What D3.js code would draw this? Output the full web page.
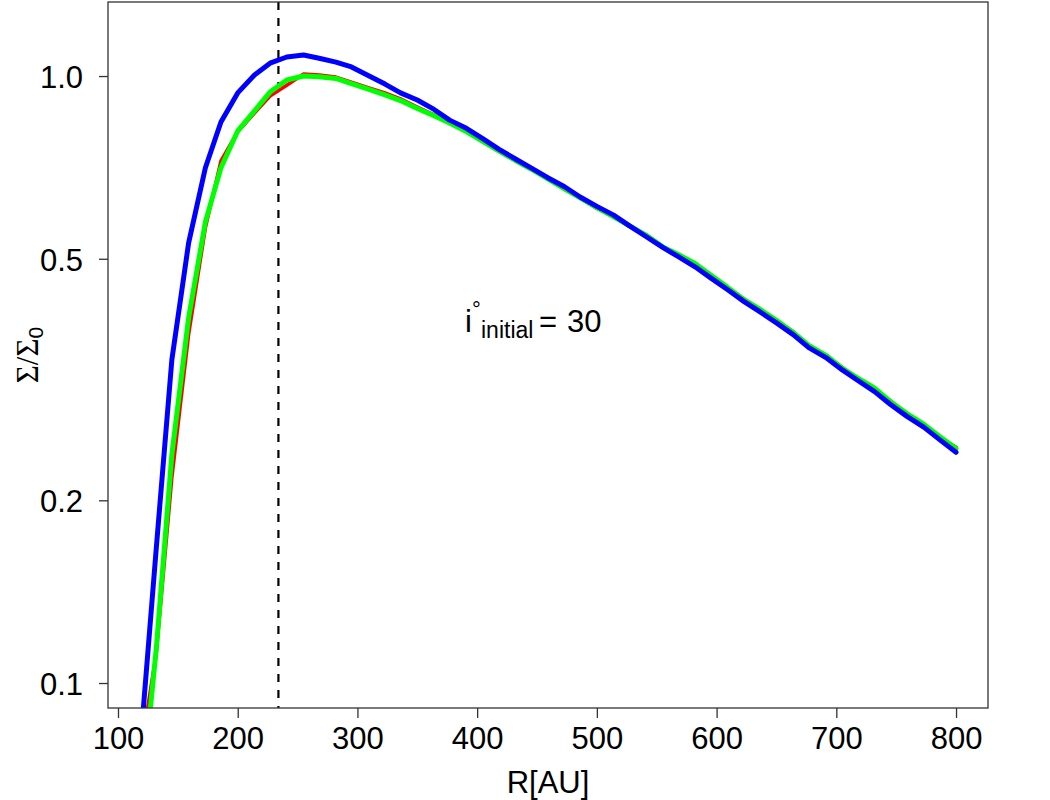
<!DOCTYPE html>
<html>
<head>
<meta charset="utf-8">
<script src="https://cdn.jsdelivr.net/npm/d3@7"></script>
<style>
  body { margin: 0; background: #fff; }
  svg { display: block; }
</style>
</head>
<body>
<svg></svg>
<script>
const width = 1050;
const height = 800;

// radius grid [AU]
const radius = [118, 132, 145, 159, 173, 186, 200, 214, 227, 241,
  255, 268, 282, 295, 309, 323, 336, 350, 364, 377,
  391, 405, 418, 432, 445, 459, 473, 486, 500, 514,
  527, 541, 555, 568, 582, 595, 609, 623, 636, 650,
  664, 677, 691, 705, 718, 732, 745, 759, 773, 786, 800];

// surface density Sigma/Sigma0, three runs
const sigmaRed = [0.075, 0.112, 0.218, 0.375, 0.562, 0.725, 0.809, 0.869, 0.927, 0.966,
  1.008, 1.004, 0.996, 0.977, 0.957, 0.938, 0.917, 0.889, 0.863, 0.839,
  0.812, 0.782, 0.752, 0.727, 0.702, 0.678, 0.651, 0.631, 0.605, 0.588,
  0.565, 0.548, 0.524, 0.506, 0.490, 0.471, 0.448, 0.429, 0.413, 0.395,
  0.379, 0.359, 0.346, 0.331, 0.317, 0.305, 0.292, 0.277, 0.266, 0.254, 0.2445];

const sigmaGreen = [0.060, 0.114, 0.238, 0.400, 0.575, 0.706, 0.812, 0.876, 0.941, 0.985,
  1.000, 0.997, 0.991, 0.972, 0.952, 0.931, 0.911, 0.884, 0.860, 0.837,
  0.810, 0.780, 0.753, 0.726, 0.703, 0.677, 0.652, 0.630, 0.607, 0.586,
  0.567, 0.547, 0.523, 0.508, 0.491, 0.470, 0.449, 0.428, 0.413, 0.396,
  0.378, 0.360, 0.347, 0.330, 0.318, 0.306, 0.291, 0.278, 0.267, 0.255, 0.2435];

const sigmaBlue = [0.076, 0.167, 0.341, 0.531, 0.706, 0.840, 0.938, 1.004, 1.050, 1.075,
  1.083, 1.070, 1.054, 1.035, 1.002, 0.970, 0.938, 0.913, 0.881, 0.846,
  0.820, 0.788, 0.758, 0.730, 0.706, 0.680, 0.657, 0.632, 0.610, 0.590,
  0.567, 0.544, 0.522, 0.504, 0.485, 0.465, 0.445, 0.425, 0.409, 0.392,
  0.375, 0.357, 0.344, 0.328, 0.315, 0.302, 0.288, 0.275, 0.264, 0.252, 0.240];

const xTicks = [100, 200, 300, 400, 500, 600, 700, 800];
const yTicks = [0.1, 0.2, 0.5, 1.0];
const yTickLabels = ["0.1", "0.2", "0.5", "1.0"];
const rCut = 234; // dashed marker

const box = { left: 108, right: 988, top: 2, bottom: 708 };

let svg = d3.select("svg").attr("width", width).attr("height", height);

const x = d3.scaleLinear().domain([91.65, 826.7]).range([box.left, box.right]);
const y = d3.scaleLog().domain([0.09096, 1.3243]).range([box.bottom, box.top]);

svg.append("defs")
  .append("clipPath")
  .attr("id", "plotclip")
  .append("rect")
  .attr("x", box.left)
  .attr("y", box.top)
  .attr("width", box.right - box.left)
  .attr("height", box.bottom - box.top);

// dashed vertical line
svg.append("line")
  .attr("x1", x(rCut)).attr("x2", x(rCut))
  .attr("y1", box.top).attr("y2", box.bottom)
  .attr("stroke", "#000")
  .attr("stroke-width", 2.2)
  .attr("stroke-dasharray", "8,8");

// curves
const line = d3.line()
  .x((d) => x(d[0]))
  .y((d) => y(d[1]));

const series = [
  { values: sigmaRed, color: "#ff0000", w: 3.5 },
  { values: sigmaGreen, color: "#00ff00", w: 5 },
  { values: sigmaBlue, color: "#0000ff", w: 5 },
];

let curves = svg.append("g").attr("clip-path", "url(#plotclip)");
series.forEach((s) => {
  curves.append("path")
    .attr("d", line(radius.map((r, i) => [r, s.values[i]])))
    .attr("fill", "none")
    .attr("stroke", s.color)
    .attr("stroke-width", s.w)
    .attr("stroke-linejoin", "round")
    .attr("stroke-linecap", "round");
});

// box
svg.append("rect")
  .attr("x", box.left).attr("y", box.top)
  .attr("width", box.right - box.left)
  .attr("height", box.bottom - box.top)
  .attr("fill", "none")
  .attr("stroke", "#333")
  .attr("stroke-width", 1.3);

// x axis
let xAxis = svg.append("g")
  .attr("transform", `translate(0,${box.bottom})`)
  .call(d3.axisBottom(x).tickValues(xTicks).tickSize(10).tickPadding(9).tickFormat(d3.format("d")));
xAxis.select(".domain").remove();
xAxis.selectAll("line").attr("stroke", "#333").attr("stroke-width", 1.3);
xAxis.selectAll("text")
  .attr("fill", "#000")
  .style("font-family", "'Liberation Sans', Arial, sans-serif")
  .style("font-size", "31px");

// y axis
let yAxis = svg.append("g")
  .attr("transform", `translate(${box.left},0)`)
  .call(d3.axisLeft(y).tickValues(yTicks).tickSize(9).tickPadding(16)
    .tickFormat((d, i) => yTickLabels[i]));
yAxis.select(".domain").remove();
yAxis.selectAll("line").attr("stroke", "#333").attr("stroke-width", 1.3);
yAxis.selectAll("text")
  .attr("fill", "#000")
  .attr("dy", "0.37em")
  .style("font-family", "'Liberation Sans', Arial, sans-serif")
  .style("font-size", "31px");

// axis titles
svg.append("text")
  .attr("x", (box.left + box.right) / 2)
  .attr("y", 793)
  .attr("text-anchor", "middle")
  .style("font-family", "'Liberation Sans', Arial, sans-serif")
  .style("font-size", "31px")
  .text("R[AU]");

let ylab = svg.append("text")
  .attr("transform", `translate(38,${(box.top + box.bottom) / 2}) rotate(-90)`)
  .attr("text-anchor", "middle");
ylab.append("tspan")
  .style("font-family", "'Liberation Serif', 'DejaVu Serif', serif")
  .style("font-size", "31px")
  .text("Σ/Σ");
ylab.append("tspan")
  .attr("dy", 5)
  .style("font-family", "'Liberation Sans', Arial, sans-serif")
  .style("font-size", "21px")
  .text("0");

// annotation
let note = svg.append("g")
  .style("font-family", "'Liberation Sans', Arial, sans-serif")
  .attr("fill", "#000");
note.append("text").attr("x", 465).attr("y", 332).style("font-size", "31px").text("i");
note.append("text").attr("x", 472).attr("y", 317).style("font-size", "22px").text("°");
note.append("text").attr("x", 481).attr("y", 338).style("font-size", "23px").text("initial");
note.append("text").attr("x", 539).attr("y", 332).style("font-size", "31px").text("=");
note.append("text").attr("x", 567).attr("y", 332).style("font-size", "31px").text("30");
</script>
</body>
</html>
